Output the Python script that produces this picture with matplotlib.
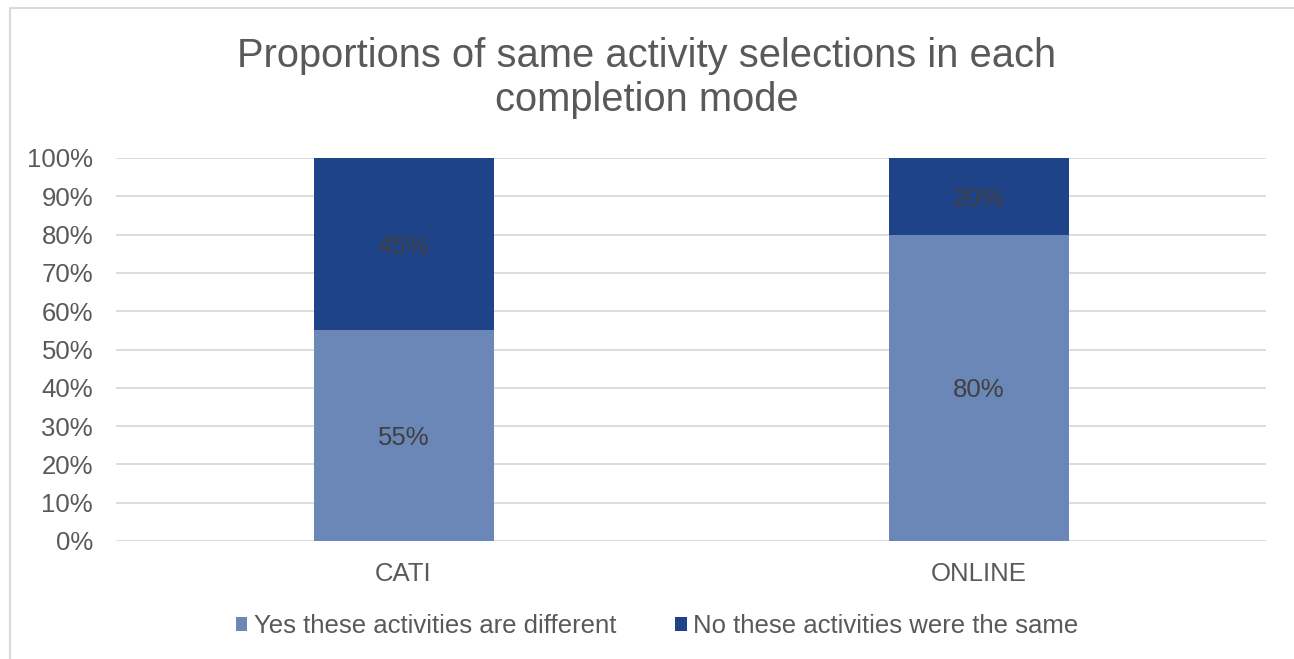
import matplotlib.pyplot as plt
from matplotlib.patches import Rectangle
import numpy as np

plt.rcParams['font.family'] = ['Liberation Sans', 'DejaVu Sans']

modes = ['CATI', 'ONLINE']
different = [55, 80]
same = [45, 20]
series_labels = ['Yes these activities are different', 'No these activities were the same']
y_ticks = list(range(0, 101, 10))

light = '#6A87B8'
dark = '#1F4388'
text_grey = '#595959'
label_grey = '#404040'

W, H = 1294, 659
fig = plt.figure(figsize=(W / 100, H / 100), dpi=100)

# chart-area frame
fig.patches.append(Rectangle((10 / W, -0.1), 1.2, (H - 8) / H + 0.1,
                             transform=fig.transFigure, fill=False,
                             edgecolor='#D9D9D9', linewidth=1.5, zorder=0))

ax = fig.add_axes([116 / W, 1 - 541 / H, (1266 - 116) / W, (541 - 158) / H])
x = np.arange(len(modes))
bw = 180 / 575
b1 = ax.bar(x, different, bw, color=light, label=series_labels[0], zorder=3)
b2 = ax.bar(x, same, bw, bottom=different, color=dark, label=series_labels[1], zorder=3)

fs = 18.5
for rect, v in zip(b1, different):
    ax.text(rect.get_x() + rect.get_width() / 2, v / 2, f'{v}%',
            ha='center', va='center_baseline', fontsize=fs, color=label_grey, zorder=4)
for rect, v, b in zip(b2, same, different):
    ax.text(rect.get_x() + rect.get_width() / 2, b + v / 2, f'{v}%',
            ha='center', va='center_baseline', fontsize=fs, color=label_grey, zorder=4)

ax.set_xlim(-0.5, len(modes) - 0.5)
ax.set_ylim(0, 100)
ax.set_yticks(y_ticks)
ax.set_yticklabels([f'{t}%' for t in y_ticks])
ax.set_xticks(x)
ax.set_xticklabels(modes)
ax.tick_params(axis='both', length=0, labelsize=fs, colors=text_grey)
ax.tick_params(axis='y', pad=16.5)
ax.tick_params(axis='x', pad=15)
ax.grid(axis='y', color='#D9D9D9', linewidth=1.3, zorder=0)
for s in ax.spines.values():
    s.set_visible(False)

fig.text(0.5, 1 - 78 / H, 'Proportions of same activity selections in each\ncompletion mode',
         ha='center', va='center', fontsize=28.7, color=text_grey, linespacing=1.23)

leg = fig.legend(loc='center', bbox_to_anchor=(657 / W, 1 - 626 / H), ncol=2, frameon=False,
                 fontsize=fs, handlelength=0.45, handleheight=0.45, handletextpad=0.25,
                 columnspacing=2.3)
for t in leg.get_texts():
    t.set_color(text_grey)

fig.savefig('out.png', dpi=100, facecolor='white')
